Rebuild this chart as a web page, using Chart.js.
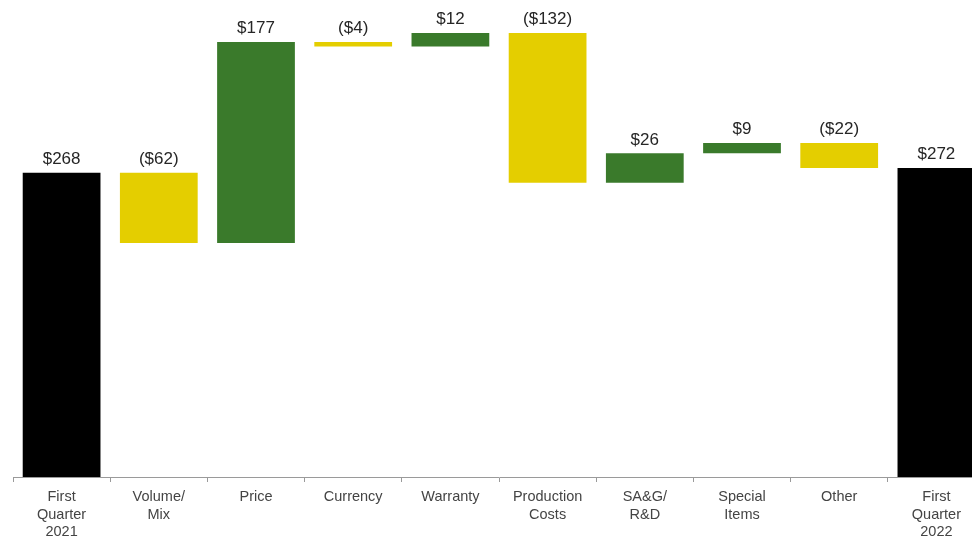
<!DOCTYPE html>
<html>
<head>
<meta charset="utf-8">
<script src="https://cdn.jsdelivr.net/npm/chart.js@4"></script>
<style>
  html, body { margin: 0; padding: 0; background: #fff; overflow: hidden; }
  #wrap { width: 985px; height: 536px; }
</style>
</head>
<body>
<div id="wrap"><canvas id="bridge"></canvas></div>
<script>
// Operating profit bridge, Q1 2021 -> Q1 2022
const categories = [
    ['First', 'Quarter', '2021'], ['Volume/', 'Mix'], 'Price', 'Currency', 'Warranty',
    ['Production', 'Costs'], ['SA&G/', 'R&D'], ['Special', 'Items'], 'Other', ['First', 'Quarter', '2022']
];
const changes = [268, -62, 177, -4, 12, -132, 26, 9, -22, 272];
const isTotal = [true, false, false, false, false, false, false, false, false, true];
const valueLabels = ['$268', '($62)', '$177', '($4)', '$12', '($132)', '$26', '$9', '($22)', '$272'];

const colTotal = '#000000';
const colUp = '#3a7a2b';
const colDown = '#e4ce00';

// build floating ranges from the running total
let running = 0;
const ranges = [];
const colors = [];
changes.forEach((v, i) => {
    if (isTotal[i]) {
        ranges.push([0, v]);
        running = v;
        colors.push(colTotal);
    } else {
        ranges.push([running, running + v]);
        running += v;
        colors.push(v >= 0 ? colUp : colDown);
    }
});

const valueLabelPlugin = {
    id: 'valueLabels',
    afterDatasetsDraw(chart) {
        const ctx = chart.ctx;
        const meta = chart.getDatasetMeta(0);
        ctx.save();
        ctx.font = '17px "Liberation Sans", Arial, sans-serif';
        ctx.fillStyle = '#262626';
        ctx.textAlign = 'center';
        ctx.textBaseline = 'bottom';
        meta.data.forEach((bar, i) => {
            const top = Math.min(bar.y, bar.base);
            ctx.fillText(valueLabels[i], bar.x, top - 5);
        });
        ctx.restore();
    }
};

new Chart(document.getElementById('bridge'), {
    type: 'bar',
    data: {
        labels: categories,
        datasets: [{
            data: ranges,
            backgroundColor: colors,
            borderWidth: 0,
            borderSkipped: false,
            barPercentage: 0.8,
            categoryPercentage: 1.0
        }]
    },
    options: {
        responsive: true,
        maintainAspectRatio: false,
        animation: false,
        layout: { padding: { left: 13, right: 0, top: 0, bottom: 0 } },
        plugins: { legend: { display: false }, tooltip: { enabled: false } },
        scales: {
            x: {
                afterFit: (scale) => { scale.height = 59; },
                grid: {
                    offset: true,
                    drawOnChartArea: false,
                    drawTicks: true,
                    tickLength: 5,
                    color: '#9a9a9a'
                },
                border: { color: '#9a9a9a', width: 1 },
                ticks: {
                    color: '#444',
                    padding: 6,
                    maxRotation: 0,
                    autoSkip: false,
                    font: { family: '"Liberation Sans", Arial, sans-serif', size: 14.5, lineHeight: 1.22 }
                }
            },
            y: {
                display: false,
                min: 0,
                max: 420
            }
        }
    },
    plugins: [valueLabelPlugin]
});
</script>
</body>
</html>
